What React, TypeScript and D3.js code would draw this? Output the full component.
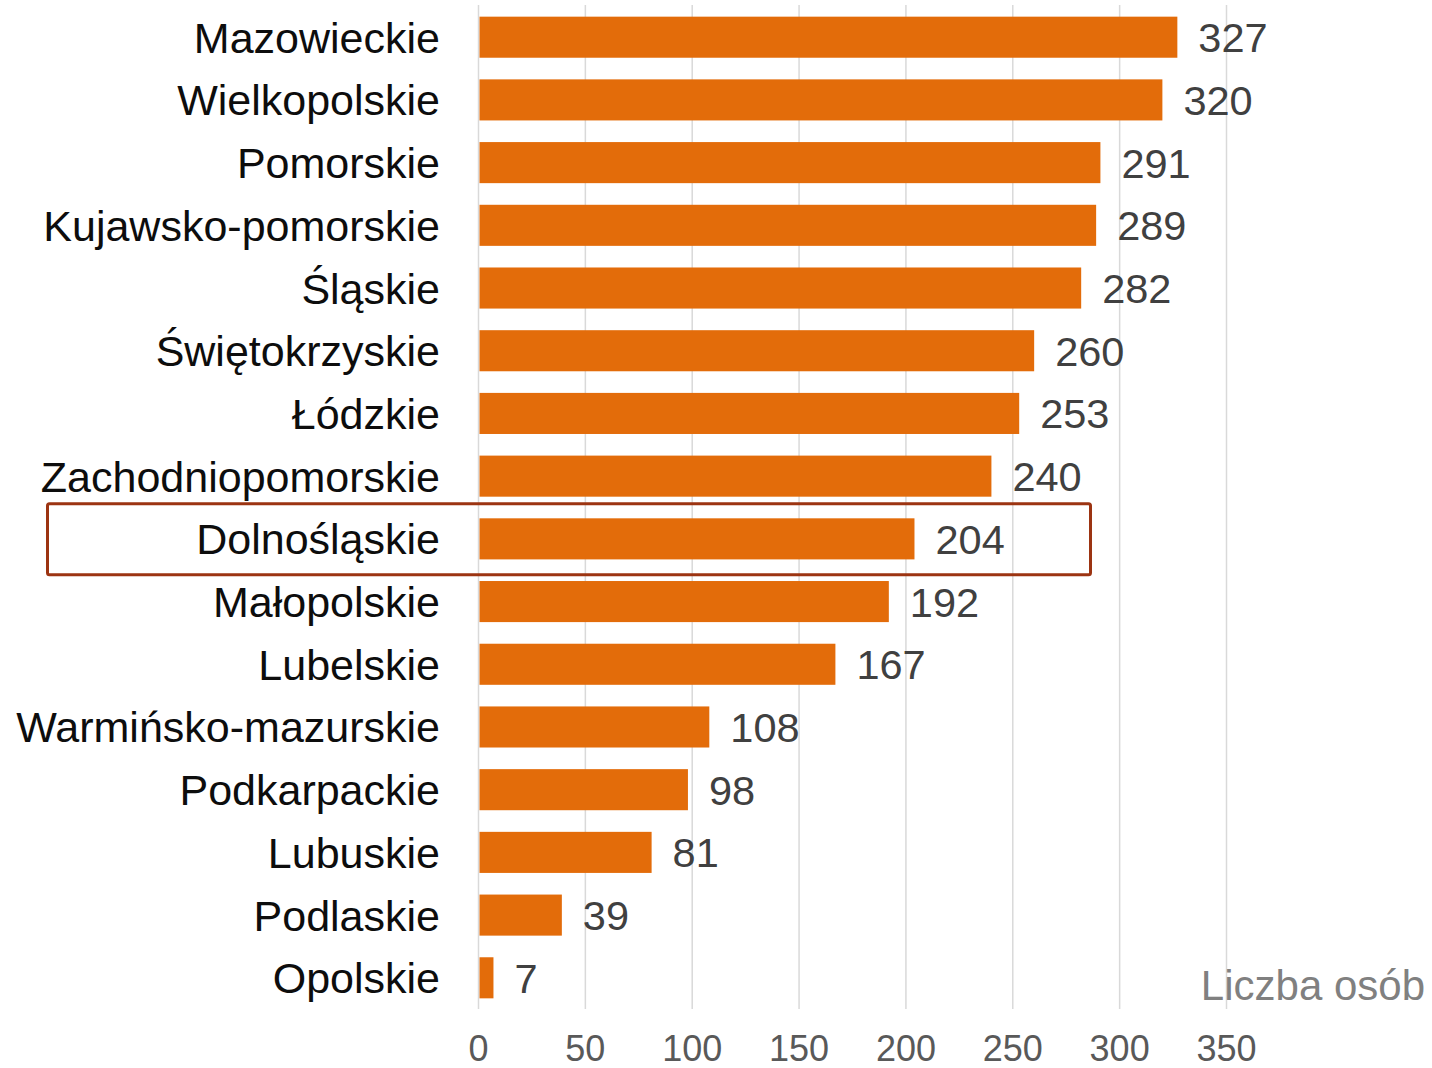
import * as d3 from 'd3';

// województwa i liczba osób
const regions = [
  'Mazowieckie',
  'Wielkopolskie',
  'Pomorskie',
  'Kujawsko-pomorskie',
  'Śląskie',
  'Świętokrzyskie',
  'Łódzkie',
  'Zachodniopomorskie',
  'Dolnośląskie',
  'Małopolskie',
  'Lubelskie',
  'Warmińsko-mazurskie',
  'Podkarpackie',
  'Lubuskie',
  'Podlaskie',
  'Opolskie',
];
const counts = [327, 320, 291, 289, 282, 260, 253, 240, 204, 192, 167, 108, 98, 81, 39, 7];
const ticks = [0, 50, 100, 150, 200, 250, 300, 350];
const highlighted = 'Dolnośląskie';
const axisTitle = 'Liczba osób';

const W = 1432;
const H = 1068;
const FONT = '"Liberation Sans", Arial, sans-serif';

export default function App() {
  const x = d3.scaleLinear().domain([0, 350]).range([478.5, 1226.5]);
  const y = d3.scaleBand<string>()
    .domain(regions)
    .range([6, 1009])
    .paddingInner(0.345)
    .paddingOuter(0.17);

  const bw = y.bandwidth();
  const hy = (y(highlighted) ?? 0) + bw / 2;

  return (
    <svg
      width={W}
      height={H}
      style={{ position: 'absolute', left: 0, top: 0, background: '#fff' }}
      fontFamily={FONT}
    >
      {/* siatka */}
      <g>
        {ticks.map(t => (
          <line
            key={t}
            x1={x(t)}
            x2={x(t)}
            y1={5}
            y2={1009}
            stroke="#d9d9d9"
            strokeWidth={1.5}
          />
        ))}
      </g>

      {/* słupki */}
      <g>
        {regions.map((r, i) => (
          <rect
            key={r}
            x={x(0) + 1}
            y={y(r)}
            width={x(counts[i]) - x(0) - 1}
            height={bw}
            fill="#e36c0a"
          />
        ))}
      </g>

      {/* etykiety województw */}
      <g fontSize={43} fill="#0d0d0d" textAnchor="end">
        {regions.map(r => (
          <text key={r} x={440} y={(y(r) ?? 0) + bw / 2} dy="0.36em">
            {r}
          </text>
        ))}
      </g>

      {/* wartości */}
      <g fontSize={41.5} fill="#404040">
        {regions.map((r, i) => (
          <text key={r} x={x(counts[i]) + 21} y={(y(r) ?? 0) + bw / 2} dy="0.36em">
            {counts[i]}
          </text>
        ))}
      </g>

      {/* oś X */}
      <g fontSize={36} fill="#595959" textAnchor="middle">
        {ticks.map(t => (
          <text key={t} x={x(t)} y={1061}>
            {t}
          </text>
        ))}
      </g>

      <text x={1425} y={1000} fontSize={42} fill="#808080" textAnchor="end">
        {axisTitle}
      </text>

      {/* wyróżnienie */}
      <rect
        x={47.5}
        y={hy - 35}
        width={1043}
        height={71}
        rx={2}
        fill="none"
        stroke="#9c3412"
        strokeWidth={3}
      />
    </svg>
  );
}
